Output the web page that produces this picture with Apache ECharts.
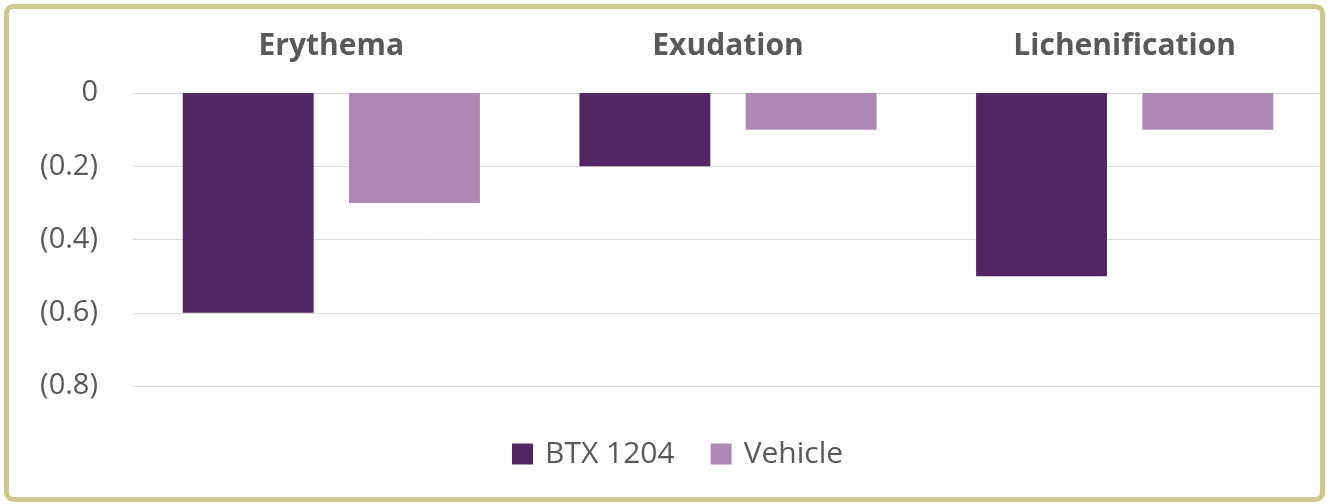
<!DOCTYPE html>
<html><head><meta charset="utf-8">
<script src="https://cdn.jsdelivr.net/npm/echarts@6/dist/echarts.min.js"></script>
<style>html,body{margin:0;padding:0;background:#fff}#c{width:1327px;height:504px}</style>
</head><body><div id="c"></div>
<script>
const categories = ['Erythema', 'Exudation', 'Lichenification'];
const btx1204 = [-0.6, -0.2, -0.5];
const vehicle = [-0.3, -0.1, -0.1];
const seriesNames = ['BTX 1204', 'Vehicle'];

const chart = echarts.init(document.getElementById('c'));
const font = '"Open Sans", "Noto Sans", sans-serif';
chart.setOption({
  animation: false,
  textStyle: { fontFamily: font },
  graphic: [{
    type: 'rect', left: 4, top: 4, silent: true, z: 100,
    shape: { width: 1316, height: 493, r: 7 },
    style: { fill: 'none', stroke: '#CDC98C', lineWidth: 5 }
  }],
  grid: { left: 133, right: 4, top: 93, bottom: 118 },
  legend: {
    bottom: 30, left: 507, itemWidth: 21, itemHeight: 21, itemGap: 36,
    icon: 'rect',
    textStyle: { fontSize: 30, color: '#595959', fontFamily: font, padding: [0, 0, 0, 7] },
    data: seriesNames
  },
  xAxis: {
    type: 'category', position: 'top', data: categories,
    axisLine: { show: false }, axisTick: { show: false },
    axisLabel: { fontSize: 30, fontWeight: 'bold', color: '#595959', margin: 32, fontFamily: font }
  },
  yAxis: {
    type: 'value', min: -0.8, max: 0, interval: 0.2,
    axisLine: { show: false }, axisTick: { show: false },
    splitLine: { lineStyle: { color: '#D9D9D9', width: 1 } },
    axisLabel: {
      fontSize: 29, color: '#595959', margin: 35, fontFamily: font,
      formatter: v => Math.abs(v) < 1e-9 ? '0' : '(' + Math.abs(v).toFixed(1) + ')'
    }
  },
  series: [
    { name: seriesNames[0], type: 'bar', data: btx1204, barWidth: '33%', barGap: '27%', itemStyle: { color: '#532565' } },
    { name: seriesNames[1], type: 'bar', data: vehicle, barWidth: '33%', itemStyle: { color: '#AE89B5' } }
  ]
});
</script></body></html>
